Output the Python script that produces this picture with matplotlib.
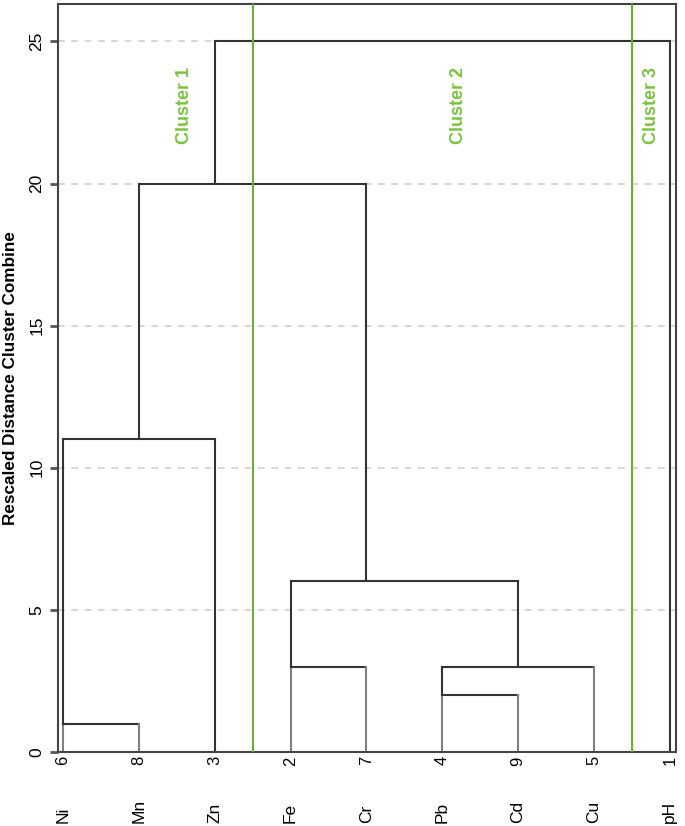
import numpy as np
import matplotlib.pyplot as plt
from matplotlib.transforms import blended_transform_factory

plt.rcParams['font.family'] = ['Liberation Sans', 'DejaVu Sans']

# leaf order as drawn
leaf_ids = ['6', '8', '3', '2', '7', '4', '9', '5', '1']
leaf_names = ['Ni', 'Mn', 'Zn', 'Fe', 'Cr', 'Pb', 'Cd', 'Cu', 'pH']

# merges: (left x, left child height, right x, right child height, merge height)
left_x = [1, 1, 4, 6, 6, 4, 2, 3]
left_h = [0, 1, 0, 0, 2, 3, 11, 20]
right_x = [2, 3, 5, 7, 8, 7, 5, 9]
right_h = [0, 0, 0, 0, 0, 3, 6, 0]
merge_h = [1, 11, 3, 2, 3, 6, 20, 25]

cluster_cuts = [3.5, 8.5]
cluster_labels = ['Cluster 1', 'Cluster 2', 'Cluster 3']
cluster_label_x = [2.6, 6.22, 8.76]
cluster_label_y = 22.75

fig = plt.figure(figsize=(6.85, 8.26), dpi=100)
ax = fig.add_axes([0.0847, 0.0896, 0.902, 0.905])

for y in [5, 10, 15, 20, 25]:
    ax.axhline(y, color='#d0d0d0', lw=1.2, ls=(0, (4, 4)), zorder=0)

dark = '#333333'
leafc = '#808080'
for lx, lh, rx, rh, mh in zip(left_x, left_h, right_x, right_h, merge_h):
    ax.plot([lx, rx], [mh, mh], color=dark, lw=1.5, zorder=2)
    for x, h in [(lx, lh), (rx, rh)]:
        c = leafc if h == 0 and mh <= 3 else dark
        ax.plot([x, x], [h, mh], color=c, lw=1.5, zorder=2)

for cx in cluster_cuts:
    ax.axvline(cx, color='#66b032', lw=1.5, zorder=3)

for lab, cx in zip(cluster_labels, cluster_label_x):
    ax.text(cx, cluster_label_y, lab, rotation=90, color='#7cc242',
            fontsize=13, fontweight='bold', ha='center', va='center')

ax.set_xlim(0.934, 9.08)
ax.set_ylim(0, 26.3)
ax.set_yticks([0, 5, 10, 15, 20, 25])
ax.set_yticklabels(['0', '5', '10', '15', '20', '25'], rotation=90, va='center', fontsize=12.5)
ax.set_xticks(range(1, 10))
ax.set_xticklabels(leaf_ids, rotation=90, fontsize=12)
ax.tick_params(axis='y', length=6, width=2, color='#555555', pad=4)
ax.tick_params(axis='x', length=0, pad=3)

trans = blended_transform_factory(ax.transData, fig.transFigure)
for i, nm in enumerate(leaf_names):
    ax.text(i + 1, 3 / 826, nm, transform=trans, rotation=90, fontsize=12.5,
            ha='center', va='bottom')

ax.set_ylabel('Rescaled Distance Cluster Combine', fontsize=12.3, fontweight='bold', labelpad=8)

for s in ax.spines.values():
    s.set_color('#444444')
    s.set_linewidth(1.5)

fig.savefig('out.png', dpi=100)
